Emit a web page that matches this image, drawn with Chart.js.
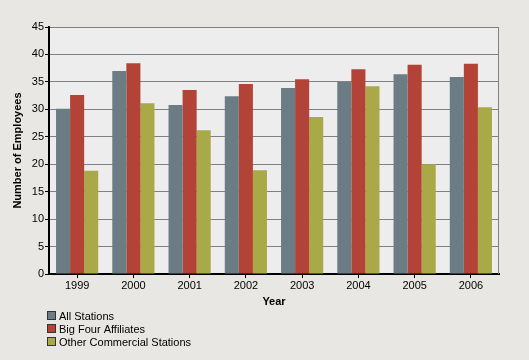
<!DOCTYPE html>
<html>
<head>
<meta charset="utf-8">
<script src="https://cdn.jsdelivr.net/npm/chart.js@4"></script>
<style>
  html, body { margin: 0; padding: 0; background: #e9e7e3; }
  #wrap { width: 529px; height: 360px; }
</style>
</head>
<body>
<div id="wrap"><canvas id="employeesChart" width="529" height="360"></canvas></div>
<script>
// data
const years = ['1999', '2000', '2001', '2002', '2003', '2004', '2005', '2006'];
const allStations = [30.1, 37.0, 30.8, 32.4, 33.9, 35.0, 36.4, 35.9];
const bigFour = [32.6, 38.4, 33.5, 34.6, 35.5, 37.3, 38.1, 38.3];
const otherCommercial = [18.8, 31.1, 26.2, 18.9, 28.6, 34.2, 20.0, 30.4];
const seriesNames = ['All Stations', 'Big Four Affiliates', 'Other Commercial Stations'];

const FONT = '"Liberation Sans", Arial, sans-serif';

// background + plot area + right border
const frame = {
    id: 'frame',
    beforeDraw(chart) {
        const c = chart.ctx, a = chart.chartArea;
        c.save();
        c.fillStyle = '#e9e7e3';
        c.fillRect(0, 0, chart.width, chart.height);
        c.fillStyle = '#ededed';
        c.fillRect(a.left, a.top, a.right - a.left, a.bottom - a.top);
        c.restore();
    },
    afterDraw(chart) {
        const c = chart.ctx, a = chart.chartArea;
        c.save();
        c.strokeStyle = '#808080';
        c.lineWidth = 1;
        c.beginPath();
        c.moveTo(Math.round(a.right) - 0.5, a.top);
        c.lineTo(Math.round(a.right) - 0.5, a.bottom);
        c.stroke();
        c.restore();
    }
};

// stacked legend under the axis title
const stackedLegend = {
    id: 'stackedLegend',
    afterDraw(chart) {
        const c = chart.ctx;
        c.save();
        c.font = '11px ' + FONT;
        c.textBaseline = 'middle';
        chart.data.datasets.forEach(function(ds, i) {
            const cy = 316 + i * 13;
            c.fillStyle = ds.backgroundColor;
            c.fillRect(47.5, cy - 4.5, 8, 8);
            c.strokeStyle = '#333';
            c.lineWidth = 1;
            c.strokeRect(47.5, cy - 4.5, 8, 8);
            c.fillStyle = '#000';
            c.fillText(ds.label, 59, cy + 0.5);
        });
        c.restore();
    }
};

const ctx = document.getElementById('employeesChart').getContext('2d');
const employeesChart = new Chart(ctx, {
    type: 'bar',
    data: {
        labels: years,
        datasets: [
            { label: seriesNames[0], data: allStations, backgroundColor: '#6b7c84' },
            { label: seriesNames[1], data: bigFour, backgroundColor: '#b24336' },
            { label: seriesNames[2], data: otherCommercial, backgroundColor: '#a9a948' }
        ]
    },
    options: {
        responsive: false,
        animation: false,
        layout: { padding: { top: 27, right: 30, bottom: 51, left: 0 } },
        datasets: { bar: { categoryPercentage: 0.75, barPercentage: 1.0 } },
        plugins: {
            legend: { display: false },
            tooltip: { enabled: false }
        },
        scales: {
            x: {
                afterFit: function(scale) { scale.height = 35; },
                grid: { drawOnChartArea: false, drawTicks: true, tickLength: 4, tickColor: '#000', offset: false },
                border: { color: '#000', width: 2 },
                ticks: { color: '#000', padding: 1, font: { family: FONT, size: 11 } },
                title: { display: true, text: 'Year', color: '#000', padding: 0,
                         font: { family: FONT, size: 11, weight: 'bold' } }
            },
            y: {
                min: 0,
                max: 45,
                afterFit: function(scale) { scale.width = 49; },
                grid: { color: '#808080', lineWidth: 1, tickLength: 4, tickColor: '#000' },
                border: { color: '#000', width: 2 },
                ticks: { stepSize: 5, color: '#000', padding: 1, font: { family: FONT, size: 11 } },
                title: { display: true, text: 'Number of Employees', color: '#000',
                         padding: { top: 11, bottom: 0 },
                         font: { family: FONT, size: 11, weight: 'bold' } }
            }
        }
    },
    plugins: [frame, stackedLegend]
});
</script>
</body>
</html>
